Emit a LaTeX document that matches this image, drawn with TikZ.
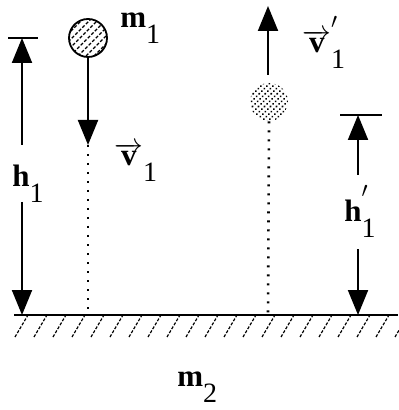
\documentclass[tikz,border=0pt]{standalone}
\usepackage{fontspec}
\setmainfont{Liberation Serif}
\usetikzlibrary{arrows.meta}
\tikzset{
  lbl/.style={font=\fontsize{15.5}{18}\selectfont\bfseries, inner sep=0pt, anchor=base west},
  dimarrow/.style={-{Triangle[length=12.5pt,width=10pt]}, line width=1pt},
  dotline/.style={line width=1.3pt, dash pattern=on 1pt off 3.5pt},
  bar/.style={line width=1pt},
  ground/.style={line width=1.4pt},
  hatchline/.style={line width=0.6pt, dash pattern=on 1.5pt off 0.8pt},
  ballhatch/.style={line width=0.6pt, dash pattern=on 1.6pt off 0.9pt},
  ghosthatch/.style={line width=0.9pt, line cap=round, dash pattern=on 0.2pt off 1.6pt},
  ball/.style={circle, minimum size=19pt, inner sep=0pt}
}
\newcommand{\sub}[1]{\raisebox{-8pt}{\normalfont\fontsize{14}{16}\selectfont #1}}
\newcommand{\prm}{\raisebox{7pt}{$'$}\hspace{-3.5pt}}
\begin{document}
\begin{tikzpicture}[x=0.5pt,y=-0.5pt]
  \useasboundingbox (0,0) rectangle (398,410);

  % ground
  \coordinate (gl) at (14,315);
  \coordinate (gr) at (398,315);
  \draw[ground] (gl) -- (gr);
  \foreach \x in {15,34,...,395}
    \draw[hatchline] (\x,337) -- ++(13,-22);

  % falling ball
  \node[ball, draw, line width=0.9pt, path picture={
      \foreach \t in {-32,-24,...,32}
        \draw[ballhatch] ([shift={(\t-25,25)}]path picture bounding box.center) -- ++(50,-50);
    }] (ball) at (88,38) {};
  \node[lbl] (m1) at (120,28) {m\sub{1}};
  \coordinate (vtip) at (88,145);
  \coordinate (foot1) at (88,315);
  \draw[dimarrow] (ball.south) -- (vtip);
  \draw[dotline] (vtip) -- (foot1);
  \node[lbl] (v1) at (114,166) {$\overrightarrow{\textbf{v}}$\sub{1}};

  % rebounding ball
  \node[ball, path picture={
      \foreach \t in {-30,-24,...,30}
        \draw[ghosthatch] ([shift={(\t-25,25)}]path picture bounding box.center) -- ++(50,-50);
    }] (ghost) at (269,102) {};
  \coordinate (vbase) at (268,75);
  \coordinate (vtop) at (268,6);
  \coordinate (foot2) at (268,315);
  \draw[dimarrow] (vbase) -- (vtop);
  \draw[dotline] (ghost.south) -- (foot2);
  \node[lbl] (v1p) at (302,53) {$\overrightarrow{\textbf{v}}$\prm\sub{1}};

  % height h1
  \coordinate (hbl) at (8,38);
  \coordinate (hbr) at (38,38);
  \coordinate (htop) at (22,38);
  \coordinate (hup) at (22,145);
  \coordinate (hdn) at (22,202);
  \coordinate (hbot) at (22,315);
  \draw[bar] (hbl) -- (hbr);
  \draw[dimarrow] (hup) -- (htop);
  \draw[dimarrow] (hdn) -- (hbot);
  \node[lbl] (h1) at (12,187) {h\sub{1}};

  % height h1'
  \coordinate (kbl) at (340,115);
  \coordinate (kbr) at (382,115);
  \coordinate (ktop) at (358,115);
  \coordinate (kup) at (358,175);
  \coordinate (kdn) at (358,249);
  \coordinate (kbot) at (358,315);
  \draw[bar] (kbl) -- (kbr);
  \draw[dimarrow] (kup) -- (ktop);
  \draw[dimarrow] (kdn) -- (kbot);
  \node[lbl] (h1p) at (344,222) {h\prm\sub{1}};

  \node[lbl] (m2) at (177,386) {m\sub{2}};
\end{tikzpicture}
\end{document}
